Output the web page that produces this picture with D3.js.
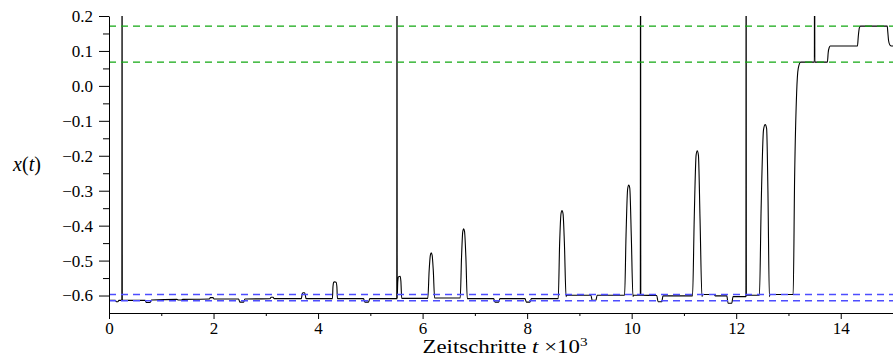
<!DOCTYPE html>
<html>
<head>
<meta charset="utf-8">
<script src="https://cdn.jsdelivr.net/npm/d3@7"></script>
<style>
  html, body { margin: 0; padding: 0; background: #fff; }
  svg { display: block; }
  .axis path, .axis line { stroke: #000; stroke-width: 1; }
  .title { font-family: "Liberation Serif", "DejaVu Serif", serif; fill: #000; }
</style>
</head>
<body>
<svg id="chart" width="893" height="360"></svg>
<script>
// State trajectory x(t): time in thousands of steps, value of x
const trajectory = [
  [0.00, -0.614], [0.12, -0.614], [0.14, -0.618], [0.17, -0.618], [0.19, -0.614],
  [0.246, -0.614], [0.25, 1.0], [0.254, -0.614],
  [0.69, -0.614], [0.715, -0.620], [0.785, -0.620], [0.81, -0.613],
  [1.30, -0.611], [1.33, -0.613], [1.38, -0.613], [1.41, -0.611],
  [1.92, -0.610], [1.94, -0.606], [1.99, -0.606], [2.01, -0.610],
  [2.48, -0.610], [2.505, -0.619], [2.575, -0.619], [2.60, -0.610],
  [3.08, -0.609], [3.10, -0.605], [3.14, -0.605], [3.16, -0.609],
  [3.68, -0.609], [3.695, -0.597], [3.71, -0.592], [3.74, -0.592], [3.755, -0.598], [3.77, -0.609],
  [4.275, -0.609], [4.285, -0.575], [4.30, -0.562], [4.315, -0.561], [4.345, -0.562], [4.36, -0.575], [4.37, -0.609],
  [4.87, -0.609], [4.895, -0.619], [4.965, -0.619], [4.99, -0.609],
  [5.506, -0.609], [5.51, 1.0], [5.514, -0.608],
  [5.525, -0.56], [5.54, -0.546], [5.57, -0.545], [5.585, -0.56], [5.60, -0.608],
  [6.10, -0.608], [6.125, -0.53], [6.148, -0.485], [6.165, -0.478], [6.182, -0.484], [6.205, -0.53], [6.23, -0.607],
  [6.72, -0.607], [6.745, -0.49], [6.768, -0.418], [6.785, -0.409], [6.802, -0.416], [6.828, -0.49], [6.855, -0.609],
  [7.36, -0.609], [7.385, -0.619], [7.455, -0.619], [7.48, -0.609],
  [7.96, -0.609], [7.985, -0.619], [8.055, -0.619], [8.08, -0.609],
  [8.595, -0.609], [8.622, -0.45], [8.648, -0.366], [8.667, -0.357], [8.687, -0.366], [8.713, -0.45], [8.745, -0.603], [8.755, -0.599],
  [9.22, -0.599], [9.245, -0.614], [9.315, -0.614], [9.34, -0.599],
  [9.865, -0.599], [9.892, -0.43], [9.923, -0.295], [9.945, -0.284], [9.964, -0.293], [9.993, -0.43], [10.025, -0.603], [10.035, -0.599],
  [10.166, -0.599], [10.17, 1.0], [10.174, -0.599],
  [10.48, -0.600], [10.505, -0.618], [10.575, -0.618], [10.60, -0.601],
  [11.165, -0.601], [11.197, -0.38], [11.233, -0.198], [11.255, -0.186], [11.277, -0.198], [11.308, -0.38], [11.345, -0.603], [11.355, -0.597],
  [11.58, -0.597], [11.60, -0.601],
  [11.82, -0.601], [11.845, -0.622], [11.915, -0.622], [11.94, -0.603],
  [12.186, -0.603], [12.19, 1.0], [12.194, -0.599],
  [12.445, -0.599], [12.477, -0.35], [12.523, -0.125], [12.555, -0.111], [12.582, -0.122], [12.607, -0.3], [12.635, -0.603], [12.645, -0.597],
  [13.09, -0.597], [13.118, -0.26], [13.156, -0.021], [13.187, 0.05], [13.233, 0.068],
  [13.496, 0.068], [13.50, 1.0], [13.504, 0.068],
  [13.745, 0.068], [13.76, 0.095], [13.78, 0.11], [13.80, 0.114],
  [14.32, 0.114], [14.335, 0.14], [14.355, 0.165], [14.375, 0.171],
  [14.89, 0.171], [14.90, 0.155], [14.915, 0.13], [14.94, 0.117], [14.97, 0.114], [15.0, 0.114]
];

// Reference levels (dashed)
const upperLevels = [0.171, 0.068];
const lowerLevels = [-0.597, -0.615];

// Axis ticks
const xMajorTicks = [0, 2, 4, 6, 8, 10, 12, 14];
const xMinorTicks = [1, 3, 5, 7, 9, 11, 13];
const yMajorTicks = [0.2, 0.1, 0.0, -0.1, -0.2, -0.3, -0.4, -0.5, -0.6];
const yMinorTicks = [0.15, 0.05, -0.05, -0.15, -0.25, -0.35, -0.45, -0.55];

const xDomain = [0, 15];
const yDomain = [-0.65, 0.2];

const margin = { left: 109, right: 0, top: 16, bottom: 47 };
const width = 893, height = 360;
const serif = '"Liberation Serif", "DejaVu Serif", serif';

const svg = d3.select("#chart");

const x = d3.scaleLinear().domain(xDomain).range([margin.left, width - margin.right]);
const y = d3.scaleLinear().domain(yDomain).range([height - margin.bottom, margin.top]);

svg.append("defs").append("clipPath").attr("id", "plot-clip")
  .append("rect")
  .attr("x", x(xDomain[0])).attr("y", y(yDomain[1]))
  .attr("width", x(xDomain[1]) - x(xDomain[0]))
  .attr("height", y(yDomain[0]) - y(yDomain[1]));

const plot = svg.append("g").attr("clip-path", "url(#plot-clip)");

// trajectory
const line = d3.line()
  .x(d => x(d[0]))
  .y(d => y(d[1]))
  .curve(d3.curveMonotoneX);

plot.append("path")
  .datum(trajectory)
  .attr("fill", "none")
  .attr("stroke", "#000")
  .attr("stroke-width", 1.1)
  .attr("stroke-linejoin", "round")
  .attr("d", line);

// dashed reference levels
plot.selectAll("line.upper")
  .data(upperLevels)
  .join("line")
  .attr("class", "upper")
  .attr("x1", x(xDomain[0])).attr("x2", x(xDomain[1]))
  .attr("y1", d => y(d)).attr("y2", d => y(d))
  .attr("stroke", "#12a812")
  .attr("stroke-width", 1.3)
  .attr("stroke-dasharray", "7,5");

plot.selectAll("line.lower")
  .data(lowerLevels)
  .join("line")
  .attr("class", "lower")
  .attr("x1", x(xDomain[0])).attr("x2", x(xDomain[1]))
  .attr("y1", d => y(d)).attr("y2", d => y(d))
  .attr("stroke", "#4d4dff")
  .attr("stroke-width", 1.6)
  .attr("stroke-dasharray", "7,5");

// axes
const fmt = d3.format(".1f");
const styleTicks = g => g.attr("font-family", serif).attr("font-size", 17)
  .selectAll("text").attr("fill", "#000");

const xAxisY = y(yDomain[0]);
svg.append("g").attr("class", "axis")
  .attr("transform", `translate(0,${xAxisY})`)
  .call(d3.axisBottom(x).tickValues(xMinorTicks).tickSize(3).tickFormat(""))
  .call(g => g.select(".domain").remove());

svg.append("g").attr("class", "axis")
  .attr("transform", `translate(0,${xAxisY})`)
  .call(d3.axisBottom(x).tickValues(xMajorTicks).tickSize(6).tickSizeOuter(0).tickPadding(3).tickFormat(d3.format("d")))
  .call(styleTicks);

svg.append("g").attr("class", "axis")
  .attr("transform", `translate(${x(xDomain[0])},0)`)
  .call(d3.axisLeft(y).tickValues(yMinorTicks).tickSize(6).tickFormat(""))
  .call(g => g.select(".domain").remove());

svg.append("g").attr("class", "axis")
  .attr("transform", `translate(${x(xDomain[0])},0)`)
  .call(d3.axisLeft(y).tickValues(yMajorTicks).tickSize(10).tickSizeOuter(0).tickPadding(6).tickFormat(fmt))
  .call(styleTicks);

// axis titles
const xt = svg.append("text")
  .attr("class", "title")
  .attr("x", 505).attr("y", 353)
  .attr("text-anchor", "middle")
  .attr("textLength", 165)
  .attr("lengthAdjust", "spacingAndGlyphs")
  .style("font-size", "18px");
xt.append("tspan").text("Zeitschritte ");
xt.append("tspan").style("font-style", "italic").text("t");
xt.append("tspan").text(" ×10");
xt.append("tspan").attr("dy", -7).style("font-size", "12px").text("3");

const yt = svg.append("text")
  .attr("class", "title")
  .attr("x", 27).attr("y", 171)
  .attr("text-anchor", "middle")
  .style("font-size", "20px");
yt.append("tspan").style("font-style", "italic").text("x");
yt.append("tspan").text("(");
yt.append("tspan").style("font-style", "italic").text("t");
yt.append("tspan").text(")");
</script>
</body>
</html>
